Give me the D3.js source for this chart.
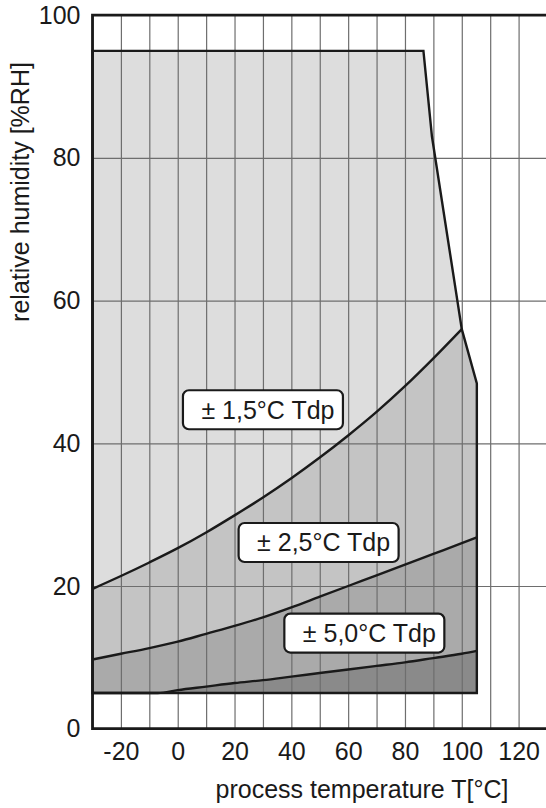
<!DOCTYPE html>
<html>
<head>
<meta charset="utf-8">
<script src="https://cdn.jsdelivr.net/npm/d3@7"></script>
<style>
  body { margin: 0; background: #fff; }
  text { font-family: "Liberation Sans", Arial, sans-serif; fill: #1a1a1a; }
</style>
</head>
<body>
<script>
// values
let xTicks = [-20, 0, 20, 40, 60, 80, 100, 120];
let yTicks = [0, 20, 40, 60, 80, 100];

// outer limit of the working range
let limitT  = [-30, 86.5, 89.5, 100, 105.3, 105.3, -30];
let limitRH = [95, 95, 83, 56, 48.4, 5, 5];

// +-1.5 Tdp border
let t15  = [-30, -20, -10, 0, 10, 20, 30, 40, 50, 60, 70, 80, 90, 100];
let rh15 = [19.6, 21.4, 23.3, 25.3, 27.5, 29.9, 32.4, 35.1, 38.0, 41.1, 44.4, 48.0, 51.9, 56.0];

// +-2.5 Tdp border
let t25  = [-30, -20, -10, 0, 10, 20, 30, 40, 50, 60, 70, 80, 90, 100, 105.3];
let rh25 = [9.7, 10.5, 11.3, 12.2, 13.3, 14.4, 15.6, 17.0, 18.5, 20.0, 21.5, 23.0, 24.5, 26.0, 26.8];

// +-5.0 Tdp border
let t50  = [-30, -7, 0, 10, 20, 30, 40, 50, 60, 70, 80, 90, 100, 105.3];
let rh50 = [5, 5, 5.4, 5.9, 6.4, 6.8, 7.3, 7.8, 8.3, 8.8, 9.3, 9.9, 10.5, 10.9];

let labelText = ["± 1,5°C Tdp", "± 2,5°C Tdp", "± 5,0°C Tdp"];
let labelT  = [30, 49.6, 65.7];
let labelRH = [44.7, 26.1, 13.4];

let width = 546, height = 808;

let svg = d3.select("body").append("svg")
    .attr("width", width)
    .attr("height", height);

let x = d3.scaleLinear().domain([-30, 130]).range([92.5, 547]);
let y = d3.scaleLinear().domain([0, 100]).range([728.7, 15.2]);

function zip(ts, rs){
  return ts.map(function(t, i){ return [t, rs[i]]; });
}

let line = d3.line()
    .x(function(d){ return x(d[0]); })
    .y(function(d){ return y(d[1]); })
    .curve(d3.curveMonotoneX);

let straight = d3.line()
    .x(function(d){ return x(d[0]); })
    .y(function(d){ return y(d[1]); });

let limit = zip(limitT, limitRH);
let c15 = zip(t15, rh15);
let c25 = zip(t25, rh25);
let c50 = zip(t50, rh50);

// filled zones
svg.append("path")
    .attr("d", straight(limit) + "Z")
    .attr("fill", "#dddddd");

svg.append("path")
    .attr("d", line(c15) + "L" + x(105.3) + "," + y(48.4) + "L" + x(105.3) + "," + y(5) + "L" + x(-30) + "," + y(5) + "Z")
    .attr("fill", "#c4c4c4");

svg.append("path")
    .attr("d", line(c25) + "L" + x(105.3) + "," + y(5) + "L" + x(-30) + "," + y(5) + "Z")
    .attr("fill", "#aaaaaa");

svg.append("path")
    .attr("d", line(c50) + "L" + x(105.3) + "," + y(5) + "Z")
    .attr("fill", "#8a8a8a");

// grid
let gridX = svg.append("g")
    .attr("transform", "translate(0," + y(0) + ")")
    .call(d3.axisBottom(x).ticks(16).tickSize(-(y(0) - y(100))).tickFormat(""));
gridX.select(".domain").remove();
gridX.selectAll("line").attr("stroke", "#6e6e6e").attr("stroke-width", 1.2);

let gridY = svg.append("g")
    .attr("transform", "translate(" + x(-30) + ",0)")
    .call(d3.axisLeft(y).tickValues([20, 40, 60, 80]).tickSize(-(width - x(-30))).tickFormat(""));
gridY.select(".domain").remove();
gridY.selectAll("line").attr("stroke", "#6e6e6e").attr("stroke-width", 1.2);

// curves and limit outline
[c15, c25, c50].forEach(function(c){
  svg.append("path")
      .attr("d", line(c))
      .attr("fill", "none")
      .attr("stroke", "#1a1a1a")
      .attr("stroke-width", 2.4);
});

svg.append("path")
    .attr("d", straight(limit) + "Z")
    .attr("fill", "none")
    .attr("stroke", "#1a1a1a")
    .attr("stroke-width", 2.4)
    .attr("stroke-linejoin", "miter");

// frame
svg.append("path")
    .attr("d", "M" + width + "," + y(100) + "H" + x(-30) + "V" + y(0) + "H" + width)
    .attr("fill", "none")
    .attr("stroke", "#1a1a1a")
    .attr("stroke-width", 2.8);

// axes labels (plain hyphen for negatives, like the original)
let xAxis = svg.append("g")
    .attr("transform", "translate(0," + y(0) + ")")
    .call(d3.axisBottom(x).tickValues(xTicks).tickSize(0).tickPadding(14).tickFormat(function(d){ return String(d); }));
xAxis.select(".domain").remove();
xAxis.selectAll("text").attr("font-size", 25).attr("fill", "#1a1a1a");

let yAxis = svg.append("g")
    .attr("transform", "translate(" + x(-30) + ",0)")
    .call(d3.axisLeft(y).tickValues(yTicks).tickSize(0).tickPadding(12));
yAxis.select(".domain").remove();
yAxis.selectAll("text").attr("font-size", 25).attr("fill", "#1a1a1a");

svg.append("text")
    .attr("x", 362)
    .attr("y", 798)
    .attr("text-anchor", "middle")
    .attr("font-size", 25)
    .text("process temperature T[°C]");

svg.append("text")
    .attr("transform", "translate(29,192) rotate(-90)")
    .attr("text-anchor", "middle")
    .attr("font-size", 25)
    .text("relative humidity [%RH]");

// tolerance labels
let labels = svg.selectAll(".tlabel")
    .data(labelText)
    .enter()
    .append("g")
    .attr("class", "tlabel")
    .attr("transform", function(d, i){
      return "translate(" + x(labelT[i]) + "," + y(labelRH[i]) + ")";
    });

labels.append("rect")
    .attr("x", -80)
    .attr("y", -19.5)
    .attr("width", 160)
    .attr("height", 39)
    .attr("rx", 6)
    .attr("fill", "#fff")
    .attr("stroke", "#1a1a1a")
    .attr("stroke-width", 2.2);

labels.append("text")
    .attr("x", 5)
    .attr("y", 9)
    .attr("text-anchor", "middle")
    .attr("font-size", 25)
    .text(function(d){ return d; });
</script>
</body>
</html>
